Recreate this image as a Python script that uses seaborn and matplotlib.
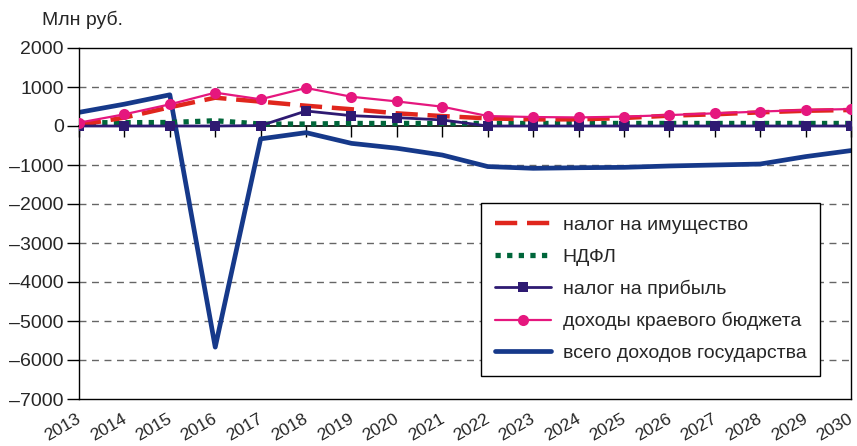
import matplotlib
matplotlib.use("Agg")
import matplotlib.pyplot as plt
import matplotlib.transforms as mtransforms
import seaborn as sns

years = list(range(2013, 2031))
property_tax = [25, 215, 480, 725, 625, 520, 430, 325, 255, 195, 170, 170, 205, 265, 300, 350, 390, 410]
ndfl = [85, 85, 90, 135, 50, 50, 65, 65, 65, 65, 65, 65, 65, 65, 65, 65, 65, 65]
profit_tax = [0, 0, 0, 0, 10, 385, 265, 215, 155, 0, 0, 0, 0, 0, 0, 0, 0, 0]
regional_budget = [85, 300, 555, 855, 685, 975, 750, 630, 495, 255, 230, 220, 240, 280, 325, 370, 410, 435]
state_total = [350, 560, 800, -5670, -330, -170, -445, -570, -745, -1040, -1085, -1070, -1060, -1025, -1000, -975, -785, -630]

names = ["налог на имущество", "НДФЛ", "налог на прибыль",
         "доходы краевого бюджета", "всего доходов государства"]
ytick_vals = [2000, 1000, 0, -1000, -2000, -3000, -4000, -5000, -6000, -7000]
ytick_labels = ["2000", "1000", "0", "–1000", "–2000", "–3000", "–4000", "–5000", "–6000", "–7000"]

sns.set_style("white")
plt.rcParams['font.family'] = ['Liberation Sans', 'DejaVu Sans']
FS = 14

fig = plt.figure(figsize=(8.57, 4.46), dpi=100)
ax = fig.add_axes([79/857, 1-399/446, (851-79)/857, (399-48)/446])

series = [property_tax, ndfl, profit_tax, regional_budget, state_total]

styles = [
    dict(color="#e0261d", lw=3.2, dashes=(5, 2.2), zorder=4),
    dict(color="#00663a", lw=3.8, dashes=(1, 1.2), zorder=3),
    dict(color="#2e1a72", lw=2, marker="s", markersize=7, markeredgewidth=0, zorder=5),
    dict(color="#e5177e", lw=1.6, marker="o", markersize=8, markeredgewidth=0, zorder=6),
    dict(color="#16398a", lw=3.4, zorder=2),
]

for name, vals, st in zip(names, series, styles):
    st = dict(st)
    dashes = st.pop("dashes", None)
    sns.lineplot(x=years, y=vals, ax=ax, label=name, **st)
    ln = ax.get_lines()[-1]
    if dashes is not None:
        ln.set_dashes(dashes)
        ln.set_dash_capstyle("butt")

ax.set_xlim(2013, 2030)
ax.set_ylim(-7000, 2000)
ax.set_xlabel("")
ax.set_ylabel("")

ax.set_yticks(ytick_vals)
ax.set_yticklabels(ytick_labels, fontsize=FS)
ax.tick_params(axis="y", direction="out", length=9, width=1, color="black", pad=2, left=True)

ax.set_xticks(years)
ax.set_xticklabels([str(y) for y in years], rotation=30, ha="right",
                   rotation_mode="anchor", fontsize=12.6)
ax.tick_params(axis="x", length=0, pad=9)
offset = mtransforms.ScaledTranslation(-3/100, 0, fig.dpi_scale_trans)
for lbl in ax.get_xticklabels():
    lbl.set_transform(lbl.get_transform() + offset)

for v in ytick_vals:
    if v not in (2000, 0, -7000):
        ax.axhline(v, color="#666666", lw=1, dashes=(5, 4), zorder=0)

for s in ax.spines.values():
    s.set_visible(True)
    s.set_color("black")
    s.set_linewidth(1)

sec = ax.secondary_xaxis(7/9)
sec.set_xticks(years)
sec.set_xticklabels([])
sec.tick_params(axis="x", direction="out", length=8, width=1, color="black")
sec.xaxis.set_ticks_position("bottom")
sec.spines["bottom"].set_color("black")
sec.spines["bottom"].set_linewidth(1.2)
sec.spines["bottom"].set_visible(True)
sec.spines["top"].set_visible(False)

leg = ax.legend(loc="upper left", bbox_to_anchor=((481-79)/772, 1-(203-48)/351),
                borderaxespad=0, frameon=True, fancybox=False, framealpha=1,
                edgecolor="black", fontsize=FS, handlelength=2.9,
                handletextpad=0.6, labelspacing=0.72, borderpad=0.7)
leg.get_frame().set_linewidth(1)
leg.set_zorder(10)

fig.text(42/857, 1-20/446, "Млн руб.", fontsize=FS, va="center", ha="left")

fig.savefig("out.png", dpi=100)
